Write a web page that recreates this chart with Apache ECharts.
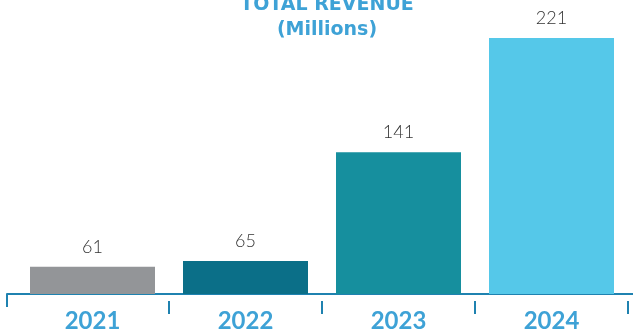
<!DOCTYPE html>
<html>
<head>
<meta charset="utf-8">
<style>
    html, body { margin: 0; padding: 0; background: #fff; }
    #chart { width: 633px; height: 333px; }
</style>
<script src="https://cdn.jsdelivr.net/npm/echarts@6/dist/echarts.min.js"></script>
</head>
<body>
<div id="chart"></div>
<script>
const years = ['2021', '2022', '2023', '2024']
const revenue = [61, 65, 141, 221]
const barColors = ['#939598', '#0b6f88', '#168f9e', '#55c8e9']

const blue = '#3ea2d6'
const lineBlue = '#1f82b0'

const chart = echarts.init(document.getElementById('chart'), null, { renderer: 'canvas' })

chart.setOption({
    animation: false,
    title: {
        text: 'TOTAL REVENUE\n(Millions)',
        left: 322,
        top: -12,
        textAlign: 'center',
        textStyle: {
            fontFamily: 'DejaVu Sans',
            fontWeight: 'bold',
            fontSize: 19,
            lineHeight: 25,
            color: blue
        }
    },
    grid: [
        { left: 16, right: 5, top: 25, bottom: 39 },
        // wider grid only used for the baseline running edge to edge
        { left: 7, right: 0, top: 25, bottom: 39 }
    ],
    xAxis: [{
        type: 'category',
        gridIndex: 0,
        data: years,
        offset: 7,
        axisLine: { show: false },
        axisTick: {
            show: true,
            customValues: [0.5, 1.5, 2.5],
            length: 13,
            lineStyle: { color: lineBlue, width: 2 }
        },
        axisLabel: {
            margin: 8,
            fontFamily: 'Lato',
            fontWeight: 'bold',
            fontSize: 24,
            color: blue
        }
    }, {
        type: 'value',
        gridIndex: 1,
        min: 0,
        max: 1,
        offset: 7,
        axisLine: {
            show: true,
            lineStyle: { color: lineBlue, width: 2 }
        },
        axisTick: {
            show: true,
            customValues: [0],
            length: 13,
            lineStyle: { color: lineBlue, width: 2 }
        },
        axisLabel: { show: false },
        splitLine: { show: false }
    }],
    yAxis: [{
        type: 'value',
        gridIndex: 0,
        min: 42,
        max: 230,
        show: false
    }, {
        type: 'value',
        gridIndex: 1,
        show: false
    }],
    series: [{
        type: 'bar',
        barWidth: 125,
        data: revenue.map((v, i) => ({ value: v, itemStyle: { color: barColors[i] } })),
        label: {
            show: true,
            position: 'top',
            distance: 11,
            fontFamily: 'Lato',
            fontWeight: 300,
            fontSize: 18,
            color: '#333'
        }
    }]
})
</script>
</body>
</html>
